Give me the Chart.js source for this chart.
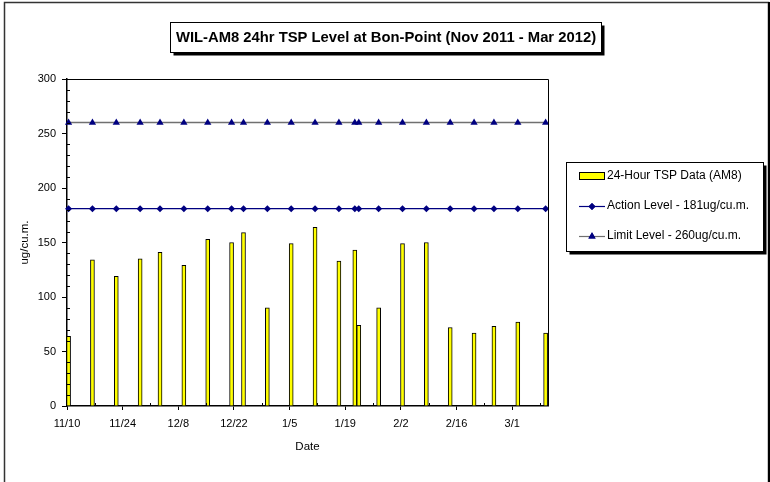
<!DOCTYPE html>
<html><head><meta charset="utf-8">
<script src="https://cdn.jsdelivr.net/npm/chart.js@4.4.1/dist/chart.umd.min.js"></script>
<style>html,body{margin:0;padding:0;background:#fff;}#wrap{position:relative;width:770px;height:482px;}</style>
</head><body><div id="wrap"><canvas id="c" width="770" height="482"></canvas></div>
<script>
// ---- data ----
const sampleDates = ['2011-11-10','2011-11-16','2011-11-22','2011-11-28','2011-12-03','2011-12-09','2011-12-15','2011-12-21','2011-12-24','2011-12-30','2012-01-05','2012-01-11','2012-01-17','2012-01-21','2012-01-22','2012-01-27','2012-02-02','2012-02-08','2012-02-14','2012-02-20','2012-02-25','2012-03-02','2012-03-09'];
const tspValues = [64,134,119,135,141,129,153,150,159,90,149,164,133,143,74,90,149,150,72,67,73,77,67];
const actionLevel = 181;
const limitLevel = 260;
const tickDates = ['2011-11-10','2011-11-24','2011-12-08','2011-12-22','2012-01-05','2012-01-19','2012-02-02','2012-02-16','2012-03-01'];
const tickLabels = ['11/10','11/24','12/8','12/22','1/5','1/19','2/2','2/16','3/1'];
const axisStart = '2011-11-10';
const axisEnd = '2012-03-10';
const chartTitle = 'WIL-AM8 24hr TSP Level at Bon-Point (Nov 2011 - Mar 2012)';
const seriesNames = ['24-Hour TSP Data (AM8)','Action Level - 181ug/cu.m.','Limit Level - 260ug/cu.m.'];
const yTitle = 'ug/cu.m.';
const xTitle = 'Date';

// ---- helpers ----
function dayIndex(s){
  const a = s.split('-').map(Number), b = axisStart.split('-').map(Number);
  return (Date.UTC(a[0],a[1]-1,a[2]) - Date.UTC(b[0],b[1]-1,b[2]))/86400000;
}
const MID = 0.4; // date-axis marks sit inside their day
const FONT = "'Liberation Sans', Arial, sans-serif";
const xs = sampleDates.map(d => dayIndex(d) + MID);
const tickVals = tickDates.map(dayIndex);

const decor = {
  id: 'decor',
  afterDraw(chart){
    const ctx = chart.ctx, ca = chart.chartArea;
    const xS = chart.scales.x, yS = chart.scales.y;
    ctx.save();
    // outer border
    ctx.strokeStyle = '#333'; ctx.lineWidth = 1.5;
    ctx.beginPath();
    ctx.moveTo(4.5, 490); ctx.lineTo(4.5, 2.5); ctx.lineTo(768.5, 2.5); ctx.lineTo(768.5, 490);
    ctx.stroke();
    ctx.fillStyle = '#000'; ctx.fillRect(768, 2, 2, 480);
    // plot top/right border
    ctx.strokeStyle = '#000'; ctx.lineWidth = 1;
    ctx.beginPath();
    ctx.moveTo(ca.left, Math.round(ca.top)+0.5); ctx.lineTo(Math.round(ca.right)+0.5, Math.round(ca.top)+0.5);
    ctx.lineTo(Math.round(ca.right)+0.5, ca.bottom);
    ctx.stroke();
    // minor ticks (inward)
    ctx.lineWidth = 1; ctx.strokeStyle = '#000';
    ctx.beginPath();
    for (let v = 10; v < 300; v += 10){
      if (v % 50 === 0) continue;
      const y = Math.round(yS.getPixelForValue(v)) + 0.5;
      ctx.moveTo(ca.left, y); ctx.lineTo(ca.left + 3, y);
    }
    tickVals.forEach(t => {
      const v = t + 7;
      if (v >= xS.max) return;
      const x = Math.round(xS.getPixelForValue(v)) + 0.5;
      ctx.moveTo(x, ca.bottom); ctx.lineTo(x, ca.bottom - 3);
    });
    ctx.stroke();
    // title box
    const tb = {x: 170.5, y: 22.5, w: 431, h: 30};
    ctx.fillStyle = '#000'; ctx.fillRect(tb.x + 3, tb.y + 3, tb.w, tb.h);
    ctx.fillStyle = '#fff'; ctx.fillRect(tb.x, tb.y, tb.w, tb.h);
    ctx.strokeStyle = '#000'; ctx.lineWidth = 1; ctx.strokeRect(tb.x, tb.y, tb.w, tb.h);
    ctx.fillStyle = '#000'; ctx.font = 'bold 14.8px ' + FONT;
    ctx.textAlign = 'center'; ctx.textBaseline = 'middle';
    ctx.fillText(chartTitle, tb.x + tb.w/2, tb.y + tb.h/2 + 0.5);
    // legend box
    const lb = {x: 566.5, y: 162.5, w: 197, h: 89};
    ctx.fillStyle = '#000'; ctx.fillRect(lb.x + 3, lb.y + 3, lb.w, lb.h);
    ctx.fillStyle = '#fff'; ctx.fillRect(lb.x, lb.y, lb.w, lb.h);
    ctx.strokeRect(lb.x, lb.y, lb.w, lb.h);
    const ds = chart.data.datasets;
    const rows = [176, 206, 236];
    ctx.font = '12px ' + FONT; ctx.textAlign = 'left'; ctx.textBaseline = 'middle';
    ds.forEach((d, i) => {
      const y = rows[i];
      if (d.type === 'bar'){
        ctx.fillStyle = d.backgroundColor; ctx.fillRect(579.5, y - 3.5, 25, 7);
        ctx.strokeStyle = '#000'; ctx.lineWidth = 1; ctx.strokeRect(579.5, y - 3.5, 25, 7);
      } else {
        ctx.strokeStyle = d.borderColor; ctx.lineWidth = 1.2;
        ctx.beginPath(); ctx.moveTo(579, y + 0.5); ctx.lineTo(605, y + 0.5); ctx.stroke();
        ctx.fillStyle = d.pointBackgroundColor;
        Chart.helpers.drawPoint(ctx, {pointStyle: d.pointStyle, radius: d.pointRadius, borderWidth: 0}, 592, y + 0.5);
        ctx.fill();
      }
      ctx.fillStyle = '#000';
      ctx.fillText(d.label, 607, y);
    });
    ctx.restore();
  }
};

new Chart(document.getElementById('c'), {
  data: {
    datasets: [
      { type: 'bar', label: seriesNames[0], data: xs.map((x,i)=>({x, y: tspValues[i]})),
        backgroundColor: '#FFFF00', borderColor: '#000', borderWidth: 1, barThickness: 4, order: 3 },
      { type: 'line', label: seriesNames[1], data: xs.map(x=>({x, y: actionLevel})),
        borderColor: '#000080', borderWidth: 1.3, pointStyle: 'rectRot', pointRadius: 3.5,
        pointBackgroundColor: '#000080', pointBorderColor: '#000080', pointBorderWidth: 0, order: 2, clip: false },
      { type: 'line', label: seriesNames[2], data: xs.map(x=>({x, y: limitLevel})),
        borderColor: '#707070', borderWidth: 1.5, pointStyle: 'triangle', pointRadius: 4.2,
        pointBackgroundColor: '#000080', pointBorderColor: '#000080', pointBorderWidth: 0, order: 1, clip: false }
    ]
  },
  options: {
    responsive: false, animation: false,
    layout: { padding: { left: 0, top: 79, right: 222, bottom: 0 } },
    plugins: { legend: { display: false }, tooltip: { enabled: false }, title: { display: false } },
    scales: {
      x: {
        type: 'linear', min: 0, max: dayIndex(axisEnd), offset: false,
        afterFit(s){ s.height = 76; },
        afterBuildTicks(s){ s.ticks = tickVals.map(v => ({value: v})); },
        ticks: { callback: (v) => { const i = tickVals.indexOf(v); return i >= 0 ? tickLabels[i] : ''; },
                 color: '#000', font: { family: FONT, size: 11 }, padding: 7, maxRotation: 0, autoSkip: false },
        grid: { display: true, offset: false, drawOnChartArea: false, drawTicks: true, tickLength: 4, color: '#000' },
        border: { display: true, color: '#000', width: 1.5 },
        title: { display: true, text: xTitle, color: '#000', font: { family: FONT, size: 11.5 }, padding: { top: 0, bottom: 28 } }
      },
      y: {
        type: 'linear', min: 0, max: 300,
        afterFit(s){ s.width = 67; },
        ticks: { stepSize: 50, color: '#000', font: { family: FONT, size: 11 }, padding: 6 },
        grid: { display: true, drawOnChartArea: false, drawTicks: true, tickLength: 5, color: '#000' },
        border: { display: true, color: '#000', width: 1.5 },
        title: { display: true, text: yTitle, color: '#000', font: { family: FONT, size: 11.5 }, padding: { top: 18, bottom: 0 } }
      }
    }
  },
  plugins: [decor]
});
</script></body></html>
